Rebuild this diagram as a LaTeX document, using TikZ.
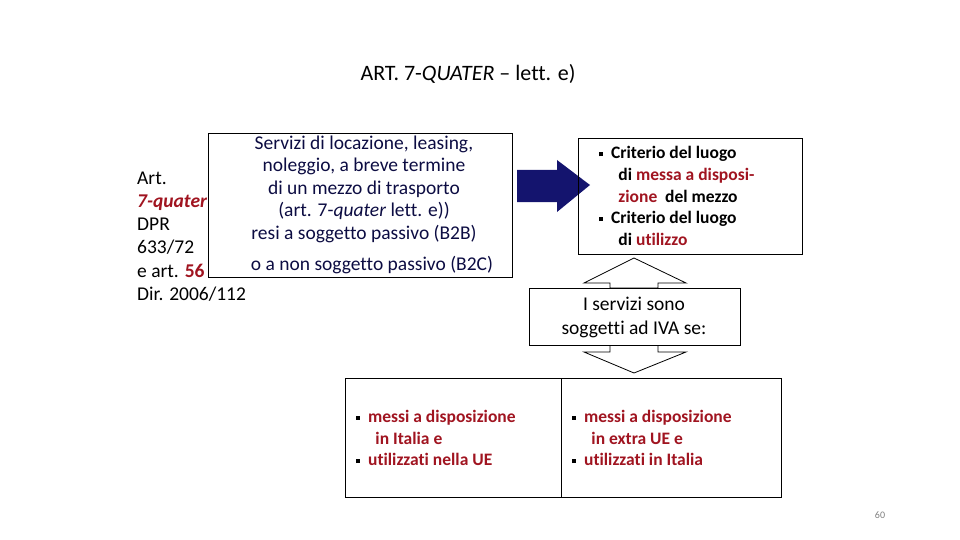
\documentclass[tikz,border=0pt]{standalone}
\usepackage{fontspec}
\setmainfont[Ligatures=NoCommon]{Carlito}
\definecolor{dred}{HTML}{A01420}
\definecolor{navy}{HTML}{14146E}
\newcommand{\sqb}{\raisebox{2.5pt}{\rule{4pt}{4pt}}\ \ }
\begin{document}
\begin{tikzpicture}[x=1pt,y=-1pt,
  bx/.style={draw,line width=0.8pt,inner sep=0},
  txt/.style={font=\fontsize{19.5}{23}\selectfont,inner sep=0},
  bul/.style={font=\fontsize{17.5}{21.6}\selectfont\bfseries,inner sep=0,align=left,anchor=west}]
\useasboundingbox (0,0) rectangle (960,540);
\node[txt,font=\fontsize{22}{24}\selectfont] (title) at (468,74) {ART. 7-\textit{QUATER} -- lett. e)};
\node[txt,align=left,anchor=west,font=\fontsize{19.5}{23.3}\selectfont] (left) at (137,236.5)
 {Art.\\ \textcolor{dred}{\textbf{\textit{7-quater}}}\\ DPR\\ 633/72\\ e art. \textcolor{dred}{\textbf{56}}\\ Dir. 2006/112};
\draw[bx] (208,133) rectangle (512,277);
\node[txt,align=center,text=navy!60!black,font=\fontsize{19.5}{22.5}\selectfont] (t1) at (364,189)
 {Servizi di locazione, leasing,\\ noleggio, a breve termine\\ di un mezzo di trasporto\\ (art. 7-\textit{quater} lett. e))\\ resi a soggetto passivo (B2B)};
\node[txt,text=navy!60!black] (t2) at (372,265) {o a non soggetto passivo (B2C)};
\fill[navy] (517,170) -- (557,170) -- (557,160) -- (590,185) -- (557,212) -- (557,202) -- (517,202) -- cycle;
\draw[bx] (578,138) rectangle (802,254);
\node[bul] (r) at (599,196) {\sqb Criterio del luogo\\ \hspace*{1.1em}di \textcolor{dred}{messa a disposi-}\\ \hspace*{1.1em}\textcolor{dred}{zione} \ del mezzo\\ \sqb Criterio del luogo\\ \hspace*{1.1em}di \textcolor{dred}{utilizzo}};
\draw[line width=0.8pt,fill=white] (634,258) -- (686,283) -- (658,283) -- (658,288) -- (610,288) -- (610,283) -- (584,283) -- cycle;
\draw[line width=0.8pt,fill=white] (634,373) -- (686,352) -- (658,352) -- (658,345) -- (610,345) -- (610,352) -- (584,352) -- cycle;
\draw[bx,fill=white] (529,288) rectangle (740,345);
\node[txt,align=center,font=\fontsize{19.5}{24}\selectfont] (m) at (634,317) {I servizi sono\\ soggetti ad IVA se:};
\draw[bx] (345,378) rectangle (561,497);
\draw[bx] (561,378) rectangle (781,497);
\node[bul] (b1) at (356,438) {\sqb \textcolor{dred}{messi a disposizione}\\ \hspace*{1.1em}\textcolor{dred}{in Italia e}\\ \sqb \textcolor{dred}{utilizzati nella UE}};
\node[bul] (b2) at (572,438) {\sqb \textcolor{dred}{messi a disposizione}\\ \hspace*{1.1em}\textcolor{dred}{in extra UE e}\\ \sqb \textcolor{dred}{utilizzati in Italia}};
\node[txt,font=\fontsize{10}{11}\selectfont,text=gray] (pg) at (880,515) {60};
\end{tikzpicture}
\end{document}
